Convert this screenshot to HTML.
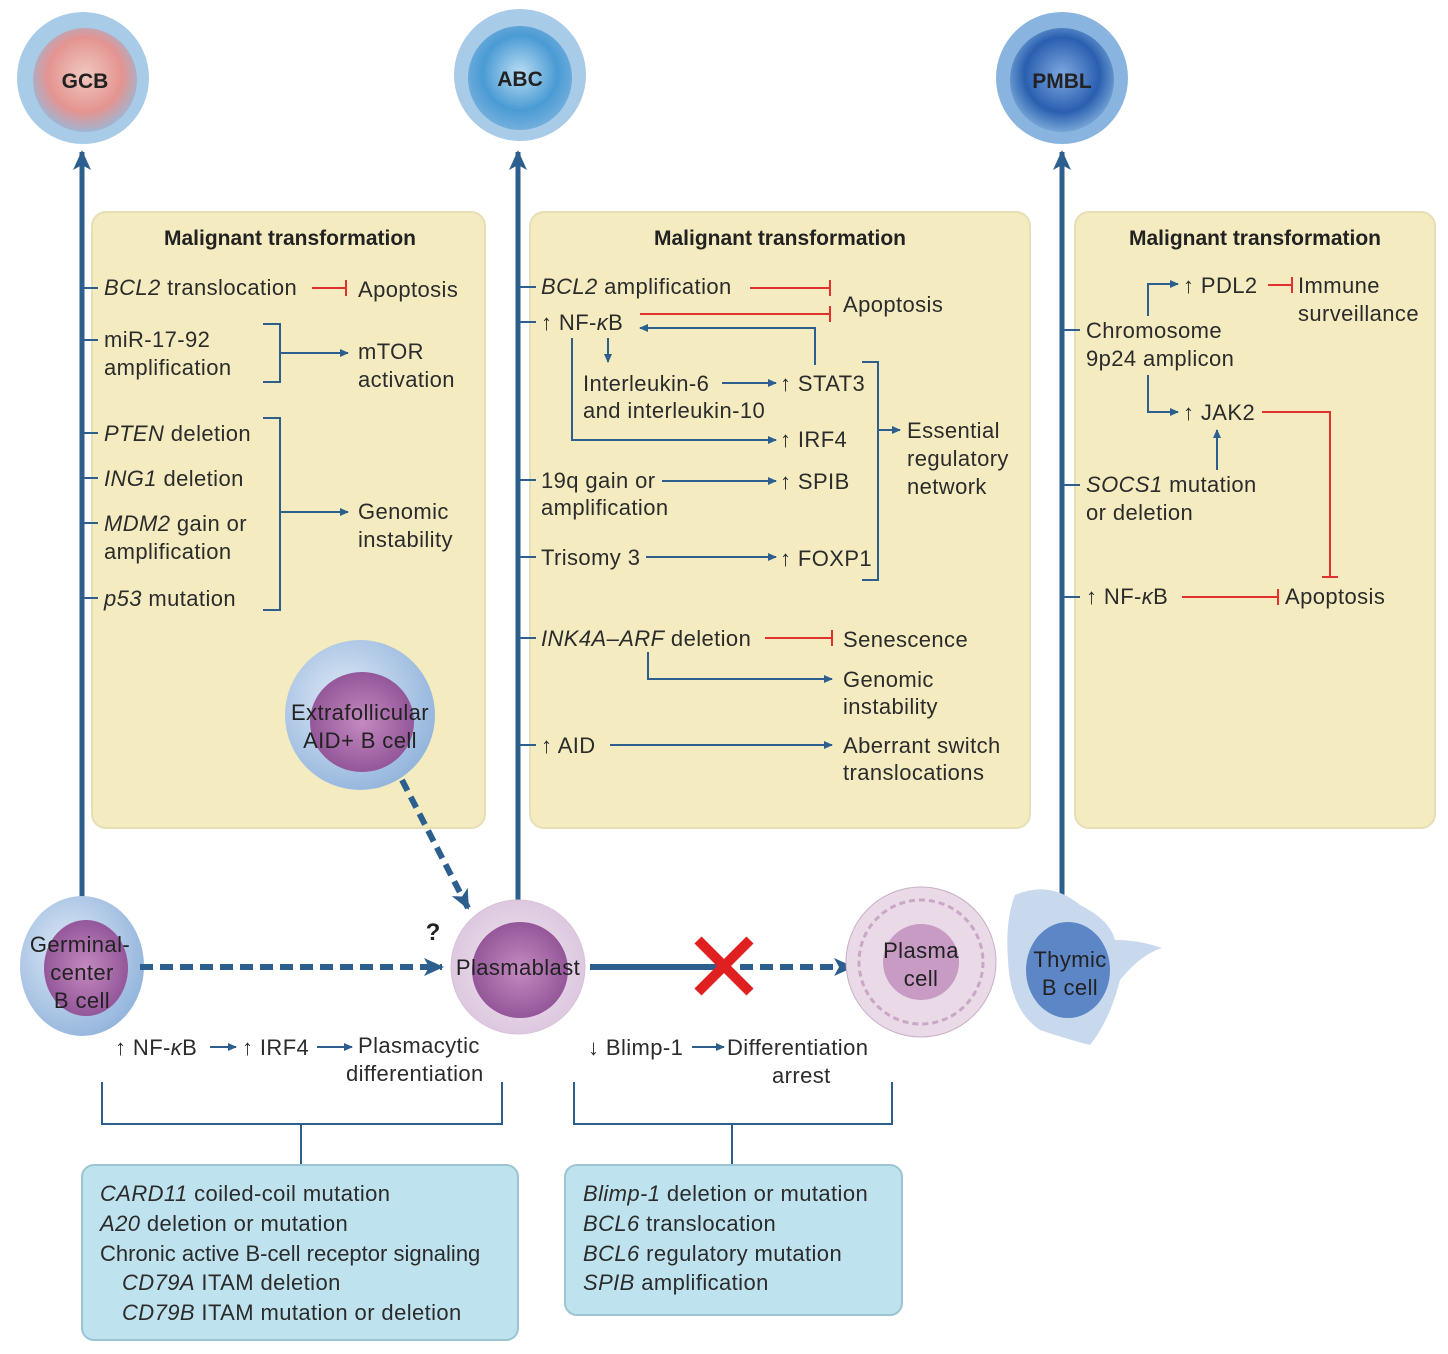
<!DOCTYPE html>
<html><head><meta charset="utf-8"><style>
body{margin:0;background:#fff}
svg{display:block}
text{font-family:"Liberation Sans",sans-serif;font-size:22px;letter-spacing:0.4px;fill:#2b2b2b}
.b{font-weight:bold;font-size:21px;letter-spacing:0}
.i{font-style:italic}
.c{fill:#222;text-anchor:middle}
</style></head><body>
<svg width="1448" height="1354" viewBox="0 0 1448 1354" xmlns="http://www.w3.org/2000/svg">
<defs>
<marker id="a" markerWidth="10" markerHeight="10" refX="8" refY="5" orient="auto" markerUnits="userSpaceOnUse"><path d="M0,1 L9,5 L0,9 z" fill="#2d5f8e"/></marker>
<marker id="A" markerWidth="22" markerHeight="22" refX="18" refY="11" orient="auto" markerUnits="userSpaceOnUse"><path d="M0,2 L20,11 L0,20 L5,11 z" fill="#2d5f8e"/></marker>
<radialGradient id="gcb" cx="0.5" cy="0.45" r="0.6"><stop offset="0" stop-color="#f0c8c0"/><stop offset="0.6" stop-color="#e49490"/><stop offset="1" stop-color="#8fbde3"/></radialGradient>
<radialGradient id="abc" cx="0.5" cy="0.45" r="0.6"><stop offset="0" stop-color="#b9dcf2"/><stop offset="0.6" stop-color="#4a9bd4"/><stop offset="1" stop-color="#7fb4df"/></radialGradient>
<radialGradient id="pmbl" cx="0.5" cy="0.45" r="0.6"><stop offset="0" stop-color="#7fa8e0"/><stop offset="0.6" stop-color="#2a5fb0"/><stop offset="1" stop-color="#8ab8e0"/></radialGradient>
<radialGradient id="cell" cx="0.4" cy="0.4" r="0.7"><stop offset="0" stop-color="#dfe9f6"/><stop offset="1" stop-color="#8cb0da"/></radialGradient>
<radialGradient id="nuc" cx="0.5" cy="0.5" r="0.6"><stop offset="0" stop-color="#c48ac0"/><stop offset="1" stop-color="#8a4d92"/></radialGradient>
<radialGradient id="pb" cx="0.5" cy="0.5" r="0.6"><stop offset="0" stop-color="#f2e6f0"/><stop offset="1" stop-color="#d9c2dc"/></radialGradient>
</defs>

<rect x="92" y="212" width="393" height="616" rx="14" fill="#f4ecc0" stroke="#e6dfb6" stroke-width="2"/>
<rect x="530" y="212" width="500" height="616" rx="14" fill="#f4ecc0" stroke="#e6dfb6" stroke-width="2"/>
<rect x="1075" y="212" width="360" height="616" rx="14" fill="#f4ecc0" stroke="#e6dfb6" stroke-width="2"/>

<g stroke="#2d5f8e" stroke-width="5">
<line x1="82" y1="905" x2="82" y2="152" marker-end="url(#A)"/>
<line x1="518" y1="910" x2="518" y2="152" marker-end="url(#A)"/>
<line x1="1062" y1="905" x2="1062" y2="152" marker-end="url(#A)"/>
</g>

<circle cx="83" cy="78" r="66" fill="#a8cbe8"/><circle cx="85" cy="80" r="52" fill="url(#gcb)"/>
<text x="85" y="88" class="b c">GCB</text>
<circle cx="520" cy="75" r="66" fill="#a8cbe8"/><circle cx="520" cy="78" r="52" fill="url(#abc)"/>
<text x="520" y="86" class="b c">ABC</text>
<circle cx="1062" cy="78" r="66" fill="#8ab4e0"/><circle cx="1062" cy="80" r="52" fill="url(#pmbl)"/>
<text x="1062" y="88" class="b c">PMBL</text>

<text x="290" y="245" class="b c">Malignant transformation</text>
<g stroke="#2d5f8e" stroke-width="2" fill="none">
<line x1="82" y1="288" x2="98" y2="288"/><line x1="82" y1="340" x2="98" y2="340"/>
<line x1="82" y1="433" x2="98" y2="433"/><line x1="82" y1="478" x2="98" y2="478"/>
<line x1="82" y1="523" x2="98" y2="523"/><line x1="82" y1="598" x2="98" y2="598"/>
<path d="M263,324 H280 V382 H263"/><line x1="280" y1="353" x2="348" y2="353" marker-end="url(#a)"/>
<path d="M263,418 H280 V610 H263"/><line x1="280" y1="512" x2="348" y2="512" marker-end="url(#a)"/>
</g>
<path d="M312,288 H346 M346,280 V296" stroke="#e03030" stroke-width="2" fill="none"/>
<text x="104" y="295"><tspan class="i">BCL2</tspan> translocation</text>
<text x="358" y="297">Apoptosis</text>
<text x="104" y="347">miR-17-92</text><text x="104" y="375">amplification</text>
<text x="358" y="359">mTOR</text><text x="358" y="387">activation</text>
<text x="104" y="441"><tspan class="i">PTEN</tspan> deletion</text>
<text x="104" y="486"><tspan class="i">ING1</tspan> deletion</text>
<text x="104" y="531"><tspan class="i">MDM2</tspan> gain or</text><text x="104" y="559">amplification</text>
<text x="104" y="606"><tspan class="i">p53</tspan> mutation</text>
<text x="358" y="519">Genomic</text><text x="358" y="547">instability</text>

<circle cx="360" cy="715" r="75" fill="url(#cell)"/><ellipse cx="362" cy="722" rx="52" ry="50" fill="url(#nuc)"/>
<text x="360" y="720" class="c">Extrafollicular</text><text x="360" y="748" class="c">AID+ B cell</text>
<line x1="402" y1="780" x2="468" y2="908" stroke="#2d5f8e" stroke-width="6" stroke-dasharray="12,7" marker-end="url(#A)"/>
<text x="433" y="940" class="b c" style="font-size:24px">?</text>

<text x="780" y="245" class="b c">Malignant transformation</text>
<g stroke="#2d5f8e" stroke-width="2" fill="none">
<line x1="518" y1="287" x2="536" y2="287"/><line x1="518" y1="322" x2="536" y2="322"/>
<line x1="518" y1="480" x2="536" y2="480"/><line x1="518" y1="557" x2="536" y2="557"/>
<line x1="518" y1="638" x2="536" y2="638"/><line x1="518" y1="745" x2="536" y2="745"/>
<path d="M815,365 V328 H640" marker-end="url(#a)"/>
<line x1="608" y1="338" x2="608" y2="362" marker-end="url(#a)"/>
<line x1="722" y1="383" x2="776" y2="383" marker-end="url(#a)"/>
<path d="M572,338 V440 H776" marker-end="url(#a)"/>
<line x1="662" y1="481" x2="776" y2="481" marker-end="url(#a)"/>
<line x1="646" y1="557" x2="776" y2="557" marker-end="url(#a)"/>
<path d="M862,362 H878 V580 H862"/><line x1="878" y1="430" x2="900" y2="430" marker-end="url(#a)"/>
<path d="M648,652 V679 H832" marker-end="url(#a)"/>
<line x1="610" y1="745" x2="832" y2="745" marker-end="url(#a)"/>
</g>
<g stroke="#e03030" stroke-width="2" fill="none">
<path d="M750,288 H830 M830,280 V296"/>
<path d="M640,314 H830 M830,306 V322"/>
<path d="M765,638 H832 M832,630 V646"/>
</g>
<text x="541" y="294"><tspan class="i">BCL2</tspan> amplification</text>
<text x="843" y="312">Apoptosis</text>
<text x="541" y="330">↑ NF-<tspan class="i">κ</tspan>B</text>
<text x="583" y="391">Interleukin-6</text><text x="583" y="418">and interleukin-10</text>
<text x="780" y="391">↑ STAT3</text>
<text x="780" y="447">↑ IRF4</text>
<text x="907" y="438">Essential</text><text x="907" y="466">regulatory</text><text x="907" y="494">network</text>
<text x="541" y="488">19q gain or</text><text x="541" y="515">amplification</text>
<text x="780" y="489">↑ SPIB</text>
<text x="541" y="565">Trisomy 3</text>
<text x="780" y="566">↑ FOXP1</text>
<text x="541" y="646"><tspan class="i">INK4A–ARF</tspan> deletion</text>
<text x="843" y="647">Senescence</text>
<text x="843" y="687">Genomic</text><text x="843" y="714">instability</text>
<text x="541" y="753">↑ AID</text>
<text x="843" y="753">Aberrant switch</text><text x="843" y="780">translocations</text>

<text x="1255" y="245" class="b c">Malignant transformation</text>
<g stroke="#2d5f8e" stroke-width="2" fill="none">
<line x1="1062" y1="330" x2="1080" y2="330"/><line x1="1062" y1="485" x2="1080" y2="485"/><line x1="1062" y1="597" x2="1080" y2="597"/>
<path d="M1148,316 V284 H1178" marker-end="url(#a)"/>
<path d="M1148,375 V412 H1178" marker-end="url(#a)"/>
<line x1="1217" y1="470" x2="1217" y2="430" marker-end="url(#a)"/>
</g>
<g stroke="#e03030" stroke-width="2" fill="none">
<path d="M1268,285 H1292 M1292,277 V293"/>
<path d="M1262,412 H1330 V577 M1322,577 H1338"/>
<path d="M1182,597 H1278 M1278,589 V605"/>
</g>
<text x="1183" y="293">↑ PDL2</text>
<text x="1298" y="293">Immune</text><text x="1298" y="321">surveillance</text>
<text x="1086" y="338">Chromosome</text><text x="1086" y="366">9p24 amplicon</text>
<text x="1183" y="420">↑ JAK2</text>
<text x="1086" y="492"><tspan class="i">SOCS1</tspan> mutation</text><text x="1086" y="520">or deletion</text>
<text x="1086" y="604">↑ NF-<tspan class="i">κ</tspan>B</text>
<text x="1285" y="604">Apoptosis</text>

<ellipse cx="82" cy="966" rx="62" ry="70" fill="url(#cell)"/><ellipse cx="86" cy="968" rx="42" ry="48" fill="url(#nuc)"/>
<text x="80" y="952" class="c">Germinal-</text><text x="82" y="980" class="c">center</text><text x="82" y="1008" class="c">B cell</text>
<line x1="140" y1="967" x2="442" y2="967" stroke="#2d5f8e" stroke-width="6" stroke-dasharray="13,7" marker-end="url(#A)"/>
<circle cx="518" cy="967" r="67" fill="url(#pb)" stroke="#d6c2d8"/><circle cx="520" cy="970" r="48" fill="url(#nuc)"/>
<text x="518" y="975" class="c">Plasmablast</text>
<line x1="590" y1="967" x2="720" y2="967" stroke="#2d5f8e" stroke-width="6"/>
<line x1="740" y1="967" x2="852" y2="967" stroke="#2d5f8e" stroke-width="6" stroke-dasharray="13,7" marker-end="url(#A)"/>
<path d="M698,940 L750,992 M750,940 L698,992" stroke="#e02020" stroke-width="10"/>
<circle cx="921" cy="962" r="75" fill="#ead9e6" stroke="#c8b0c8"/><circle cx="921" cy="962" r="62" fill="none" stroke="#c8a8c6" stroke-width="3" stroke-dasharray="6,4"/><circle cx="921" cy="962" r="38" fill="#c79bc4"/>
<text x="921" y="958" class="c">Plasma</text><text x="921" y="986" class="c">cell</text>
<path d="M1015,895 Q1050,880 1080,905 Q1110,920 1115,940 Q1140,940 1162,948 Q1140,955 1120,980 Q1110,1020 1090,1045 Q1070,1040 1040,1030 Q1010,1010 1008,960 Q1005,920 1015,895 z" fill="#c8d9ee"/>
<ellipse cx="1068" cy="970" rx="42" ry="48" fill="#5c86c6"/>
<text x="1070" y="967" class="c">Thymic</text><text x="1070" y="995" class="c">B cell</text>

<g stroke="#2d5f8e" stroke-width="2" fill="none">
<line x1="210" y1="1047" x2="236" y2="1047" marker-end="url(#a)"/>
<line x1="317" y1="1047" x2="352" y2="1047" marker-end="url(#a)"/>
<line x1="692" y1="1047" x2="724" y2="1047" marker-end="url(#a)"/>
<path d="M102,1082 V1124 H502 V1082 M301,1124 V1165"/>
<path d="M574,1082 V1124 H892 V1082 M732,1124 V1165"/>
</g>
<text x="115" y="1055">↑ NF-<tspan class="i">κ</tspan>B</text>
<text x="242" y="1055">↑ IRF4</text>
<text x="358" y="1053">Plasmacytic</text><text x="346" y="1081">differentiation</text>
<text x="588" y="1055">↓ Blimp-1</text>
<text x="727" y="1055">Differentiation</text><text x="772" y="1083">arrest</text>

<rect x="82" y="1165" width="436" height="175" rx="12" fill="#bfe3ee" stroke="#9cc4d2" stroke-width="2"/>
<text x="100" y="1201"><tspan class="i">CARD11</tspan> coiled-coil mutation</text>
<text x="100" y="1231"><tspan class="i">A20</tspan> deletion or mutation</text>
<text x="100" y="1261" style="letter-spacing:0">Chronic active B-cell receptor signaling</text>
<text x="122" y="1290"><tspan class="i">CD79A</tspan> ITAM deletion</text>
<text x="122" y="1320"><tspan class="i">CD79B</tspan> ITAM mutation or deletion</text>
<rect x="565" y="1165" width="337" height="150" rx="12" fill="#bfe3ee" stroke="#9cc4d2" stroke-width="2"/>
<text x="583" y="1201"><tspan class="i">Blimp-1</tspan> deletion or mutation</text>
<text x="583" y="1231"><tspan class="i">BCL6</tspan> translocation</text>
<text x="583" y="1261"><tspan class="i">BCL6</tspan> regulatory mutation</text>
<text x="583" y="1290"><tspan class="i">SPIB</tspan> amplification</text>
</svg>
</body></html>
